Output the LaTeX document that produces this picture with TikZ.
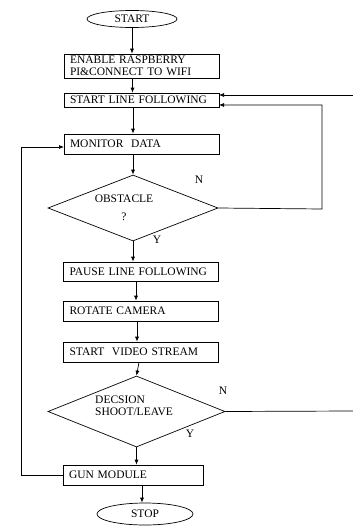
\documentclass[tikz,border=0pt]{standalone}
\usepackage{fontspec}
\setmainfont{Liberation Serif}
\usetikzlibrary{shapes.geometric,arrows.meta,calc}
\begin{document}
\begin{tikzpicture}[x=1pt,y=-1pt,
  every node/.style={font=\fontsize{11.5}{11.5}\selectfont},
  line/.style={draw=black,line width=0.7pt},
  arr/.style={line,-{Latex[length=5pt,width=4pt]}},
  term/.style={ellipse,draw=black,line width=0.7pt,inner sep=0pt},
  proc/.style={rectangle,draw=black,line width=0.7pt,inner xsep=6pt,inner ysep=0pt,align=left,text width=143pt,minimum width=155pt},
  dec/.style={diamond,draw=black,line width=0.7pt,inner sep=0pt},
  lbl/.style={inner sep=0pt}]
\useasboundingbox (0,0) rectangle (353,527);
\node[term,minimum width=90pt,minimum height=17pt] (start) at (132,19) {START};
\node[proc,minimum height=24pt] (enable) at (141.5,66) {ENABLE RASPBERRY\\PI\&CONNECT TO WIFI};
\node[proc,minimum height=14pt] (follow) at (141.5,100) {START LINE FOLLOWING};
\node[proc,minimum height=20pt] (monitor) at (141.5,144) {MONITOR\ \ DATA};
\node[dec,minimum width=170pt,minimum height=66pt] (obst) at (133,208) {};
\node[lbl,align=center] (obsttxt) at (124,208) {OBSTACLE\\[7pt]?};
\node[proc,minimum height=19pt] (pause) at (141,271.5) {PAUSE LINE FOLLOWING};
\node[proc,minimum height=20pt] (rotate) at (141,311) {ROTATE CAMERA};
\node[proc,minimum height=20pt] (video) at (141,352) {START\ \ VIDEO STREAM};
\node[dec,minimum width=177pt,minimum height=71pt] (decision) at (136.5,411.5) {};
\node[lbl,align=left,anchor=west] (dectxt) at (95,406) {DECSION\\SHOOT/LEAVE};
\node[proc,minimum width=140pt,text width=128pt,minimum height=20pt] (gun) at (133,475) {GUN MODULE};
\node[term,minimum width=96pt,minimum height=22pt] (stop) at (145,514) {STOP};
\node[lbl] (n1) at (199,180) {N};
\node[lbl] (y1) at (157,240) {Y};
\node[lbl] (n2) at (223,391) {N};
\node[lbl] (y2) at (190,434) {Y};
\coordinate (edgeA) at (353,411);
\coordinate (edgeB) at (353,95);
\coordinate (loopR) at (322,209);
\coordinate (loopL) at (21,475);
\coordinate (followIn1) at (219,105);
\coordinate (followIn2) at (219,95);
\coordinate (monIn) at (64,147);
% main flow
\draw[arr] (start.south) -- (start.south |- enable.north);
\draw[arr] ($(enable.south)+(-9,0)$) -- ($(follow.north)+(-9,0)$);
\draw[arr] ($(follow.south)+(-8.5,0)$) -- ($(monitor.north)+(-8.5,0)$);
\draw[arr] ($(monitor.south)+(-8.5,0)$) -- (obst.north);
\draw[arr] (obst.south) -- (obst.south |- pause.north);
\draw[arr] ($(pause.south)+(-5,0)$) -- ($(rotate.north)+(-5,0)$);
\draw[arr] ($(rotate.south)+(-4,0)$) -- ($(video.north)+(-4,0)$);
\draw[arr] ($(video.south)+(-2,0)$) -- (decision.north);
\draw[arr] (decision.south) -- (decision.south |- gun.north);
\draw[arr] ($(gun.south)+(9,0)$) -- ($(stop.north)+(-3,0)$);
% feedback loops
\draw[arr] (obst.east) -- (loopR) -- (loopR |- followIn1) -- (followIn1);
\draw[line] (decision.east) -- (edgeA);
\draw[arr] (edgeB) -- (followIn2);
\draw[arr] (gun.west) -- (loopL) -- (loopL |- monIn) -- (monIn);
\end{tikzpicture}
\end{document}
